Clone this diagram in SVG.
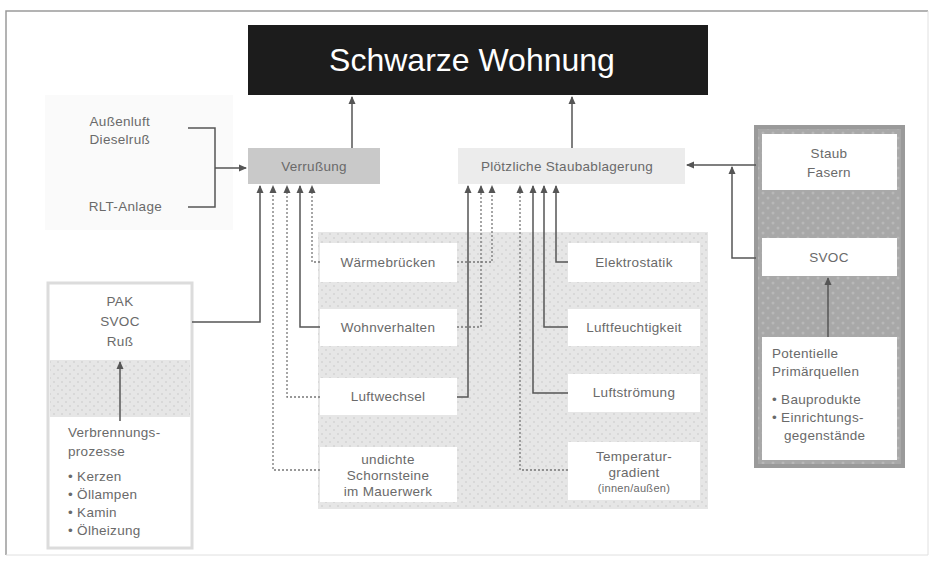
<svg xmlns="http://www.w3.org/2000/svg" width="933" height="562" viewBox="0 0 933 562">
<defs>
<marker id="ah" markerWidth="8" markerHeight="8" refX="7" refY="4" orient="auto" markerUnits="userSpaceOnUse">
<path d="M0,0.5 L8,4 L0,7.5 z" fill="#555"/>
</marker>
<pattern id="dots" width="8" height="8" patternUnits="userSpaceOnUse">
<rect width="8" height="8" fill="#e6e6e6"/>
<circle cx="2" cy="2" r="1" fill="#d4d4d4"/>
<circle cx="6" cy="6" r="1" fill="#d4d4d4"/>
</pattern>
<pattern id="dots2" width="10" height="10" patternUnits="userSpaceOnUse">
<rect width="10" height="10" fill="#a8a8a8"/>
<circle cx="3" cy="3" r="1.5" fill="#b8b8b8"/>
<circle cx="8" cy="8" r="1.5" fill="#b8b8b8"/>
</pattern>
</defs>
<style>
text{font-family:"Liberation Sans",Arial,sans-serif;fill:#6a6a6a;font-size:13.5px;letter-spacing:0.3px}
.c{text-anchor:middle}
.r{text-anchor:end}
.w{fill:#ffffff;stroke:none}
.ln{fill:none;stroke:#555;stroke-width:1.5}
.dl{fill:none;stroke:#777;stroke-width:1.3;stroke-dasharray:2 2}
</style>
<rect x="0" y="0" width="933" height="562" fill="#ffffff"/>
<path d="M6,555 L6,11 L928,11" fill="none" stroke="#9a9a9a" stroke-width="1.5"/>
<path d="M6,555 L928,555 L928,11" fill="none" stroke="#e0e0e0" stroke-width="1"/>

<g id="title">
<rect x="248" y="25" width="460" height="70" fill="#1c1c1c"/>
<text x="472" y="71" class="c" style="fill:#ffffff;font-size:32px;letter-spacing:0">Schwarze Wohnung</text>
</g>

<g id="outdoor">
<rect x="45" y="95" width="188" height="135" fill="#fafafa"/>
<text x="150" y="126" class="r">Außenluft</text>
<text x="150" y="144" class="r">Dieselruß</text>
<text x="162" y="211" class="r">RLT-Anlage</text>
</g>

<g id="verrussung">
<rect x="248" y="148" width="132" height="36" fill="#c9c9c9"/>
<text x="314" y="171" class="c">Verrußung</text>
</g>

<g id="staub">
<rect x="458" y="148" width="227" height="36" fill="#ececec"/>
<text x="567" y="171" class="c">Plötzliche Staubablagerung</text>
</g>

<g id="combustion">
<rect x="48" y="283" width="144" height="265" fill="#ffffff" stroke="#dcdcdc" stroke-width="3"/>
<rect x="50" y="360" width="140" height="57" fill="url(#dots)"/>
<text x="120" y="306" class="c">PAK</text>
<text x="120" y="326" class="c">SVOC</text>
<text x="120" y="346" class="c">Ruß</text>
<text x="68" y="437">Verbrennungs-</text>
<text x="68" y="456">prozesse</text>
<text x="68" y="481">•  Kerzen</text>
<text x="68" y="499">•  Öllampen</text>
<text x="68" y="517">•  Kamin</text>
<text x="68" y="535">•  Ölheizung</text>
</g>

<g id="factors">
<rect x="318" y="232" width="390" height="277" fill="url(#dots)"/>
</g>
<g id="waermebruecken">
<rect x="320" y="243" width="137" height="39" class="w"/>
<text x="388" y="267" class="c">Wärmebrücken</text>
</g>
<g id="wohnverhalten">
<rect x="320" y="309" width="137" height="37" class="w"/>
<text x="388" y="332" class="c">Wohnverhalten</text>
</g>
<g id="luftwechsel">
<rect x="320" y="378" width="137" height="37" class="w"/>
<text x="388" y="401" class="c">Luftwechsel</text>
</g>
<g id="schornsteine">
<rect x="320" y="447" width="137" height="55" class="w"/>
<text x="388" y="464" class="c">undichte</text>
<text x="388" y="480" class="c">Schornsteine</text>
<text x="388" y="496" class="c">im Mauerwerk</text>
</g>
<g id="elektrostatik">
<rect x="568" y="243" width="132" height="39" class="w"/>
<text x="634" y="267" class="c">Elektrostatik</text>
</g>
<g id="luftfeuchtigkeit">
<rect x="568" y="309" width="132" height="37" class="w"/>
<text x="634" y="332" class="c">Luftfeuchtigkeit</text>
</g>
<g id="luftstroemung">
<rect x="568" y="374" width="132" height="38" class="w"/>
<text x="634" y="397" class="c">Luftströmung</text>
</g>
<g id="temperatur">
<rect x="568" y="442" width="132" height="58" class="w"/>
<text x="634" y="461" class="c">Temperatur-</text>
<text x="634" y="477" class="c">gradient</text>
<text x="634" y="492" class="c" style="font-size:11px">(innen/außen)</text>
</g>

<g id="sources">
<rect x="756" y="127" width="147" height="339" fill="url(#dots2)" stroke="#9a9a9a" stroke-width="4"/>
<rect x="762" y="134" width="135" height="56" class="w"/>
<text x="829" y="158" class="c">Staub</text>
<text x="829" y="177" class="c">Fasern</text>
<rect x="762" y="238" width="135" height="38" class="w"/>
<text x="829" y="262" class="c">SVOC</text>
<rect x="762" y="337" width="135" height="123" class="w"/>
<text x="772" y="358">Potentielle</text>
<text x="772" y="376">Primärquellen</text>
<text x="772" y="404">•  Bauprodukte</text>
<text x="772" y="422">•  Einrichtungs-</text>
<text x="784" y="440">gegenstände</text>
</g>

<g id="connectors">
<path class="ln" d="M352,148 V97" marker-end="url(#ah)"/>
<path class="ln" d="M572,148 V97" marker-end="url(#ah)"/>
<path class="ln" d="M188,128 H215 V207 H188"/>
<path class="ln" d="M215,168 H246" marker-end="url(#ah)"/>
<path class="ln" d="M192,322 H260 V186" marker-end="url(#ah)"/>
<path class="dl" d="M320,470 H273 V186" marker-end="url(#ah)"/>
<path class="dl" d="M320,397 H287 V186" marker-end="url(#ah)"/>
<path class="ln" d="M320,327 H300 V186" marker-end="url(#ah)"/>
<path class="dl" d="M320,262 H312 V186" marker-end="url(#ah)"/>
<path class="ln" d="M457,397 H468 V186" marker-end="url(#ah)"/>
<path class="dl" d="M457,327 H481 V186" marker-end="url(#ah)"/>
<path class="dl" d="M457,262 H492 V186" marker-end="url(#ah)"/>
<path class="dl" d="M568,470 H520 V186" marker-end="url(#ah)"/>
<path class="ln" d="M568,393 H533 V186" marker-end="url(#ah)"/>
<path class="ln" d="M568,327 H544 V186" marker-end="url(#ah)"/>
<path class="ln" d="M568,262 H556 V186" marker-end="url(#ah)"/>
<path class="ln" d="M756,165 H687" marker-end="url(#ah)"/>
<path class="ln" d="M756,258 H732 V167" marker-end="url(#ah)"/>
<path class="ln" d="M828,337 V278" marker-end="url(#ah)"/>
<path class="ln" d="M120,421 V362" marker-end="url(#ah)"/>
</g>
</svg>
